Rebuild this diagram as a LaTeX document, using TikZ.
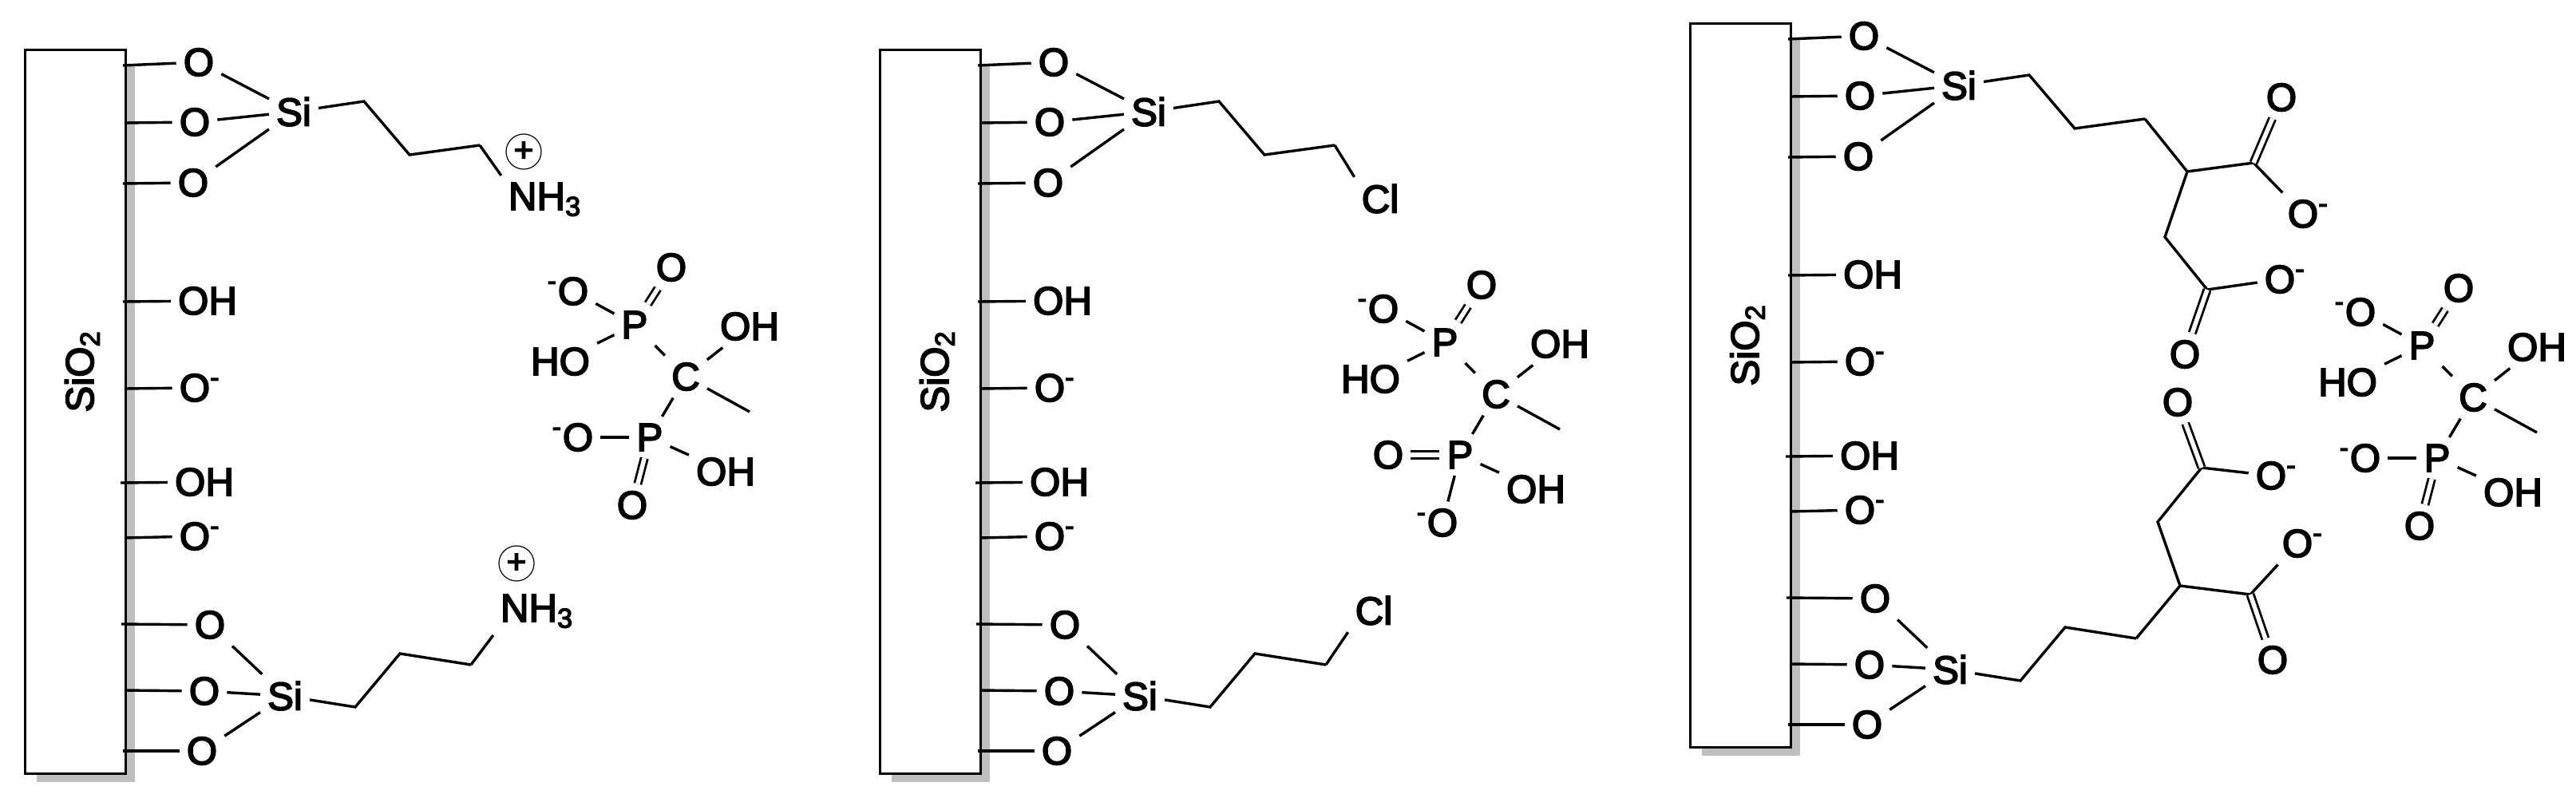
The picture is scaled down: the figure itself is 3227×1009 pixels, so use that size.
\documentclass[tikz,border=0pt]{standalone}
\usepackage{fontspec}
\setmainfont{Liberation Sans}[FakeBold=3.6]

\newcommand{\om}{O\rlap{\textsuperscript{-}}}
\newcommand{\mo}{\llap{\textsuperscript{-}}O}

\tikzset{
  atom/.style={inner sep=2.6pt,outer sep=0pt,font=\fontsize{14}{16}\selectfont},
  bond/.style={line width=0.034cm},
  dbond/.style={line width=0.028cm,double,double distance=0.055cm},
  charge/.style={circle,draw,line width=0.012cm,minimum size=0.44cm,inner sep=0pt,font=\fontsize{12}{12}\selectfont},
}

\newcommand{\silica}{
  \fill [black!25] (46,83) rectangle (169,980);
  \node [draw,fill=white,line width=0.03cm,anchor=north west,minimum width=1.26cm,minimum height=9.06cm,inner sep=0pt] (slab) at (30,61) {};
  \node [atom,rotate=90] (sio) at (103,465) {SiO\textsubscript{2}};

  \coordinate (s1) at (154,82);
  \coordinate (s2) at (156,154);
  \coordinate (s3) at (154,230);
  \coordinate (s4) at (154,378);
  \coordinate (s5) at (156,487);
  \coordinate (s6) at (151,605);
  \coordinate (s7) at (156,674);
  \coordinate (s8) at (152,782);
  \coordinate (s9) at (156,865);
  \coordinate (s10) at (154,941);

  \node [atom] (o1) at (249,78) {O};
  \node [atom] (o2) at (244,153) {O};
  \node [atom] (o3) at (242,229) {O};
  \node [atom] (oh1) at (260,377) {OH};
  \node [atom] (om1) at (244,486) {\om};
  \node [atom] (oh2) at (256,604) {OH};
  \node [atom] (om2) at (244,672) {\om};
  \node [atom] (o4) at (263,783) {O};
  \node [atom] (o5) at (256,866) {O};
  \node [atom] (o6) at (253,941) {O};
  \node [atom] (si1) at (368,140) {Si};
  \node [atom] (si2) at (357,872) {Si};

  \draw [bond] (s1) -- (o1);
  \draw [bond] (s2) -- (o2);
  \draw [bond] (s3) -- (o3);
  \draw [bond] (s4) -- (oh1);
  \draw [bond] (s5) -- (om1);
  \draw [bond] (s6) -- (oh2);
  \draw [bond] (s7) -- (om2);
  \draw [bond] (s8) -- (o4);
  \draw [bond] (s9) -- (o5);
  \draw [bond] (s10) -- (o6);

  \draw [bond] (o1) -- (si1);
  \draw [bond] (o2) -- (si1);
  \draw [bond] (o3) -- (si1);
  \draw [bond] (o4) -- (si2);
  \draw [bond] (o5) -- (si2);
  \draw [bond] (o6) -- (si2);

  \coordinate (a1) at (456,127);
  \coordinate (a2) at (513,194);
  \coordinate (a3) at (601,182);
  \coordinate (b1) at (445,886);
  \coordinate (b2) at (501,819);
  \coordinate (b3) at (590,833);

  \draw [bond] (si1) -- (a1) -- (a2) -- (a3);
  \draw [bond] (si2) -- (b1) -- (b2) -- (b3);
}

% #1, #3: texts at the lower P, #2, #4: their bonds
\newcommand{\phospho}[4]{
  \node [atom] (p1) at (795,407) {P};
  \node [atom] (p2) at (814,548) {P};
  \node [atom] (c) at (859,472) {C};
  \node [atom] (x1) at (841,335) {O};
  \node [atom] (x2) at (718,365) {\mo};
  \node [atom] (x3) at (702,453) {HO};
  \node [atom] (x4) at (939,409) {OH};
  \node [atom] (x5) at (724,548) {#1};
  \node [atom] (x6) at (909,591) {OH};
  \node [atom] (x7) at (792,633) {#3};
  \coordinate (me) at (939,516);

  \draw [dbond] (p1) -- (x1);
  \draw [bond] (p1) -- (x2);
  \draw [bond] (p1) -- (x3);
  \draw [bond] (p1) -- (c);
  \draw [bond] (c) -- (x4);
  \draw [bond] (c) -- (me);
  \draw [bond] (c) -- (p2);
  \draw [#2] (p2) -- (x5);
  \draw [bond] (p2) -- (x6);
  \draw [#4] (p2) -- (x7);
}

\begin{document}
\begin{tikzpicture}[x=0.01cm,y=-0.01cm]
  \useasboundingbox (0,0) rectangle (3227,1009);

  \begin{scope}[name prefix=l-]
    \silica
    \node [atom] (n1) at (683,250) {NH\textsubscript{3}};
    \node [atom] (n2) at (673,766) {NH\textsubscript{3}};
    \node [charge] (q1) at (656,190) {+};
    \node [charge] (q2) at (647,706) {+};
    \draw [bond] (a3) -- (n1.north west);
    \draw [bond] (b3) -- (n2.south west);
    \phospho{\mo}{bond}{O}{dbond}
  \end{scope}

  \begin{scope}[shift={(1071,0)},name prefix=m-]
    \silica
    \node [atom] (cl1) at (658,249) {Cl};
    \node [atom] (cl2) at (650,765) {Cl};
    \draw [bond] (a3) -- (cl1.north west);
    \draw [bond] (b3) -- (cl2.south west);
  \end{scope}

  \begin{scope}[shift={(1015,22)},name prefix=mp-]
    \phospho{O}{dbond}{\mo}{bond}
  \end{scope}

  \begin{scope}[shift={(2086,-33)},name prefix=r-]
    \silica
    \coordinate (a4) at (654,248);
    \coordinate (a5) at (737,237);
    \coordinate (a6) at (626,330);
    \coordinate (a7) at (679,396);
    \node [atom] (y1) at (772,155) {O};
    \node [atom] (y2) at (799,301) {\om};
    \node [atom] (y3) at (770,383) {\om};
    \node [atom] (y4) at (651,477) {O};
    \draw [bond] (a3) -- (a4) -- (a5) -- (y2);
    \draw [bond] (a4) -- (a6) -- (a7) -- (y3);
    \draw [dbond] (a5) -- (y1);
    \draw [dbond] (a7) -- (y4);

    \coordinate (b4) at (645,767);
    \coordinate (b5) at (733,778);
    \coordinate (b6) at (617,687);
    \coordinate (b7) at (672,619);
    \node [atom] (z1) at (761,860) {O};
    \node [atom] (z2) at (792,714) {\om};
    \node [atom] (z3) at (759,629) {\om};
    \node [atom] (z4) at (642,537) {O};
    \draw [bond] (b3) -- (b4) -- (b5) -- (z2);
    \draw [bond] (b4) -- (b6) -- (b7) -- (z3);
    \draw [dbond] (b5) -- (z1);
    \draw [dbond] (b7) -- (z4);
  \end{scope}

  \begin{scope}[shift={(2239,26)},name prefix=rp-]
    \phospho{\mo}{bond}{O}{dbond}
  \end{scope}
\end{tikzpicture}
\end{document}
